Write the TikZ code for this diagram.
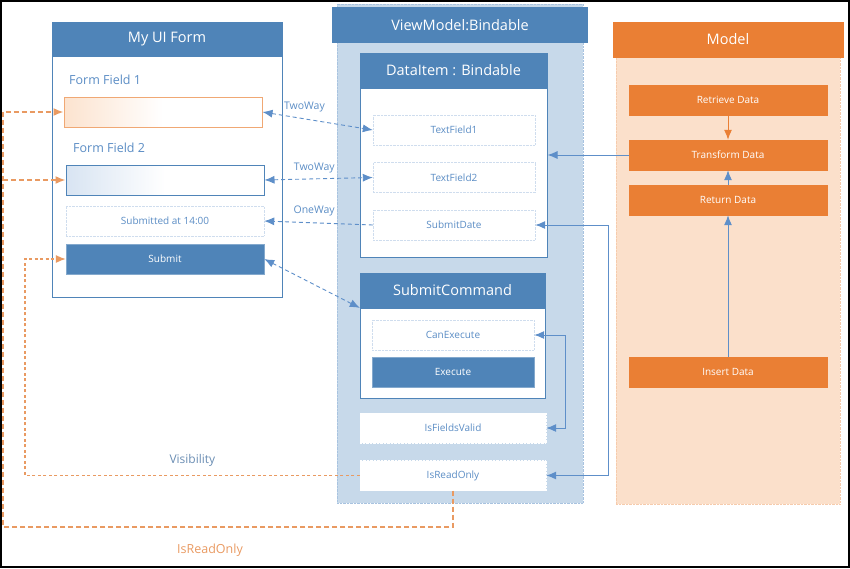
\documentclass[tikz,border=0pt]{standalone}
\usepackage{fontspec}
\setmainfont{Open Sans}
\usepackage{tikz}
\usetikzlibrary{arrows.meta,positioning,calc}

\definecolor{hdblue}{HTML}{4F84B8}
\definecolor{pnblue}{HTML}{C7D9EA}
\definecolor{txblue}{HTML}{5B8DC5}
\definecolor{lnblue}{HTML}{5E8FC9}
\definecolor{dtblue}{HTML}{CFDDEE}
\definecolor{ffblue}{HTML}{D8E4F2}
\definecolor{mdorange}{HTML}{EA7F34}
\definecolor{mdlight}{HTML}{FBE0CB}
\definecolor{fforange}{HTML}{F0A874}
\definecolor{ffpeach}{HTML}{FCE3CF}
\definecolor{rdorange}{HTML}{E99A62}
\definecolor{vsgray}{HTML}{6A8DB3}

\tikzset{hdr/.style={draw=hdblue, fill=hdblue, text=white, inner sep=0pt, minimum height=35pt, font=\fontsize{14.5}{16}\selectfont}}
\tikzset{ohdr/.style={draw=mdorange, fill=mdorange, text=white, inner sep=0pt, minimum height=35pt, font=\fontsize{14.5}{16}\selectfont}}
\tikzset{tip/.style={-{Latex[length=10pt,width=8pt]}}, ttip/.style={{Latex[length=10pt,width=8pt]}-{Latex[length=10pt,width=8pt]}}}
\tikzstyle{fld}=[inner sep=0pt, minimum width=162pt, minimum height=30pt, text=txblue, font=\fontsize{10}{12}\selectfont]
\tikzstyle{slot}=[fld, draw=dtblue, densely dotted, fill=white]
\tikzstyle{btn}=[fld, draw=hdblue!70, fill=hdblue, text=white]
\tikzstyle{mbox}=[fld, draw=mdorange, fill=mdorange, text=white, minimum width=198pt]
\tikzstyle{flbl}=[text=txblue, inner sep=0pt, font=\fontsize{12.5}{14}\selectfont]
\tikzstyle{elbl}=[text=txblue, inner sep=1pt, font=\fontsize{10.5}{12}\selectfont]
\tikzstyle{bind}=[color=lnblue, line width=0.9pt, dash pattern=on 4pt off 3pt]
\tikzstyle{flow}=[color=lnblue, line width=1pt]
\tikzstyle{rdonly}=[color=rdorange, line width=1.6pt, dash pattern=on 5pt off 3pt]

\begin{document}
\begin{tikzpicture}[x=1pt, y=-1pt, node distance=47.5pt]
\useasboundingbox (0,0) rectangle (850,568);
\draw[line width=2pt] (1,1) rectangle (849,567);

% the form
\node[draw=hdblue, line width=1pt, fill=white, minimum width=230pt, minimum height=275pt] (ui) at (167,159.5) {};
\node[hdr, minimum width=230pt, minimum height=34pt, anchor=north] (uihead) at (ui.north) {My UI Form};
\node[flbl, anchor=west] (ff1lbl) at (69,80) {Form Field 1};
\node[fld, minimum width=198pt, draw=fforange, line width=1pt, left color=ffpeach, right color=white, middle color=white] (ff1) at (163,112) {};
\node[flbl, anchor=west] (ff2lbl) at (73,148) {Form Field 2};
\node[fld, minimum width=198pt, draw=hdblue, line width=1pt, left color=ffblue, right color=white, middle color=white] (ff2) at (165,180) {};
\node[slot, minimum width=198pt] (subat) at (165,221) {Submitted at 14:00};
\node[btn, minimum width=198pt] (submit) at (165,259) {Submit};

% viewmodel
\node[draw=pnblue!70!lnblue, densely dotted, fill=pnblue, minimum width=246pt, minimum height=499pt] (vm) at (460,253.5) {};
\node[hdr, minimum width=255pt, anchor=north] (vmhead) at (460,7) {ViewModel:Bindable};
\node[draw=hdblue, line width=1pt, fill=white, minimum width=187pt, minimum height=204pt] (di) at (453.5,155) {};
\node[hdr, minimum width=187pt, anchor=north] (dihead) at (di.north) {DataItem : Bindable};
\node[slot] (tf1) at (454,130) {TextField1};
\node[slot] (tf2) [below of=tf1] {TextField2};
\node[slot] (sdate) [below of=tf2] {SubmitDate};
\node[draw=hdblue, line width=1pt, fill=white, minimum width=185pt, minimum height=125pt] (sc) at (452.5,335.5) {};
\node[hdr, minimum width=185pt, anchor=north] (schead) at (sc.north) {SubmitCommand};
\node[slot] (canex) at (453,335) {CanExecute};
\node[btn] (exec) [below of=canex, node distance=37pt] {Execute};
\node[slot, draw=white, minimum width=186pt] (fvalid) at (453,428) {IsFieldsValid};
\node[slot, draw=white, minimum width=186pt] (ronly) [below of=fvalid] {IsReadOnly};

% model
\node[draw=fforange!60, densely dotted, fill=mdlight, minimum width=224pt, minimum height=482pt] (mod) at (728,263) {};
\node[ohdr, minimum width=230pt, anchor=north] (modhead) at (mod.north) {Model};
\node[mbox] (retr) at (728,100) {Retrieve Data};
\node[mbox] (trans) [below of=retr, node distance=55pt] {Transform Data};
\node[mbox] (ret) [below of=trans, node distance=45pt] {Return Data};
\node[mbox] (ins) at (728,372) {Insert Data};

\path[bind, ttip] (ff1.east) edge node[elbl, pos=0.38, above=5pt] {TwoWay} (tf1.west)
(ff2.east) edge node[elbl, pos=0.46, above=4pt] {TwoWay} (tf2.west)
(submit.east) edge (schead.south west);
\path[bind, tip] (sdate.west) edge node[elbl, pos=0.54, above=5pt] {OneWay} (subat.east);

\draw[flow, tip] (trans.west) -- (di.east);
\draw[flow, ttip] (sdate.east) -- ++(73,0) |- (ronly.east);
\draw[flow, ttip] (canex.east) -- ++(31,0) |- (fvalid.east);
\draw[color=mdorange, line width=1pt, tip] (retr) -- (trans);
\draw[flow, tip] (ret) -- (trans);
\draw[flow, tip] (ins) -- (ret);

\coordinate (vis) at (25,0);
\coordinate (ro) at (3,527);
\draw[color=rdorange, line width=1.2pt, dash pattern=on 3pt off 2.5pt, tip] (ronly.west) -- node[pos=0.5, above=5pt, text=vsgray, font=\fontsize{12}{14}\selectfont] {Visibility} (vis |- ronly.west) -- (vis |- submit.west) -- (submit.west);
\draw[rdonly, tip] (ronly.south) |- node[pos=0.77, below=13pt, text=rdorange, font=\fontsize{12.5}{14}\selectfont] {IsReadOnly} (ro) |- (ff1.west);
\draw[rdonly, tip] (ro |- ff2.west) -- (ff2.west);
\end{tikzpicture}
\end{document}
